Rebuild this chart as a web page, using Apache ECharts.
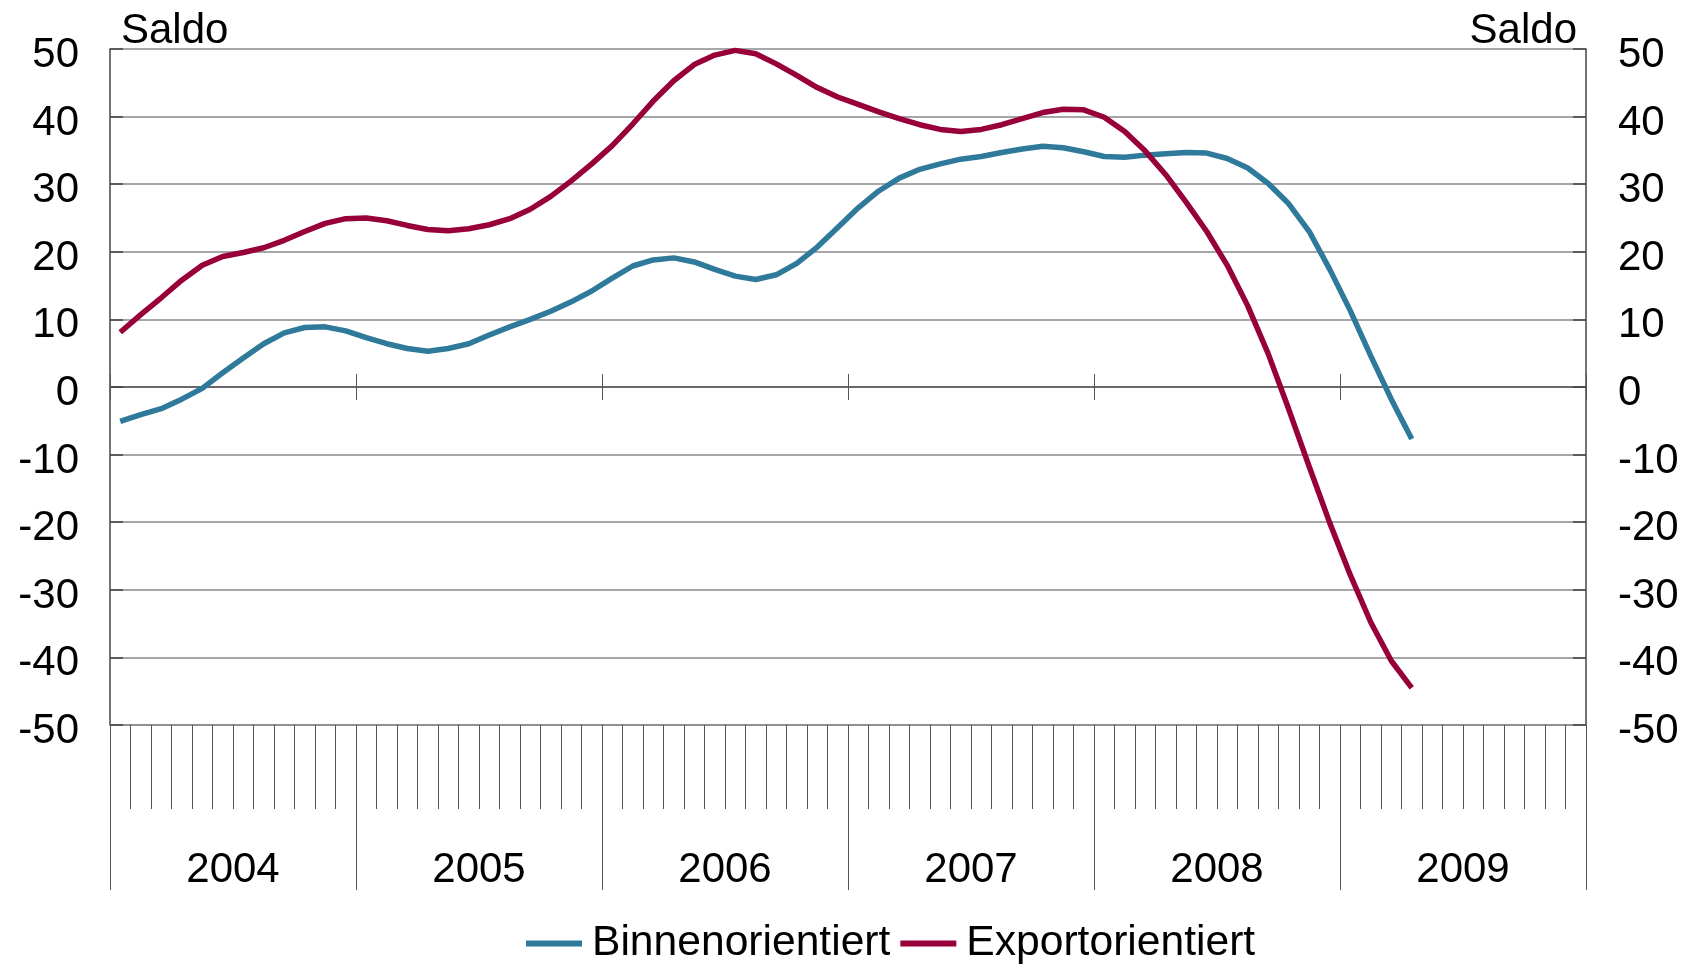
<!DOCTYPE html>
<html>
<head>
<meta charset="utf-8">
<script src="https://cdn.jsdelivr.net/npm/echarts@6/dist/echarts.min.js"></script>
<style>
  html, body { margin: 0; padding: 0; background: #fff; }
  #chart { width: 1691px; height: 965px; }
</style>
</head>
<body>
<div id="chart"></div>
<script>
// years on the x axis, one category per month
const years = ['2004', '2005', '2006', '2007', '2008', '2009'];
const months = [];
years.forEach(function (y) {
    for (let m = 1; m <= 12; m++) months.push(y + '-' + (m < 10 ? '0' + m : m));
});

// Saldo, Jan 2004 - Apr 2009
const binnen = [
    -5.1, -4.1, -3.2, -1.8, -0.2, 2.1, 4.3, 6.4, 8.0, 8.8, 8.9, 8.3,
    7.3, 6.4, 5.7, 5.3, 5.7, 6.4, 7.7, 8.9, 10.0, 11.2, 12.6, 14.2,
    16.1, 17.9, 18.8, 19.1, 18.5, 17.4, 16.4, 15.9, 16.6, 18.3, 20.7, 23.6,
    26.5, 29.0, 30.9, 32.2, 33.0, 33.7, 34.1, 34.7, 35.2, 35.6, 35.4, 34.8,
    34.1, 34.0, 34.3, 34.5, 34.7, 34.6, 33.8, 32.4, 30.1, 27.1, 23.0, 17.4,
    11.3, 4.6, -1.8, -7.7
];
const export_ = [
    8.1, 10.7, 13.2, 15.8, 18.0, 19.3, 19.9, 20.6, 21.7, 23.0, 24.2, 24.9,
    25.0, 24.6, 23.9, 23.3, 23.1, 23.4, 24.0, 24.9, 26.3, 28.2, 30.5, 33.0,
    35.7, 38.9, 42.3, 45.3, 47.7, 49.1, 49.8, 49.3, 47.8, 46.1, 44.3, 42.9,
    41.8, 40.7, 39.7, 38.8, 38.1, 37.8, 38.1, 38.8, 39.7, 40.6, 41.1, 41.0,
    39.9, 37.8, 34.9, 31.4, 27.3, 23.0, 18.0, 12.0, 4.9, -3.3, -11.8, -20.1,
    -27.8, -34.8, -40.5, -44.5
];

const FONT = '"Liberation Sans", Arial, sans-serif';
const axisDark = '#444';

const myChart = echarts.init(document.getElementById('chart'));

function yAxisConf(pos) {
    const left = pos === 'left';
    return {
        type: 'value',
        position: pos,
        min: -50,
        max: 50,
        interval: 10,
        name: 'Saldo',
        nameLocation: 'end',
        nameGap: -3,
        nameTextStyle: {
            fontFamily: FONT, fontSize: 42, color: '#000',
            align: left ? 'left' : 'right',
            verticalAlign: 'bottom',
            lineHeight: 42,
            padding: left ? [0, 0, 0, 11] : [0, 9, 0, 0]
        },
        axisLine: { show: true, lineStyle: { color: axisDark, width: 1.5 } },
        axisTick: { show: true, inside: true, length: 13, lineStyle: { color: axisDark, width: 1.5 } },
        axisLabel: {
            margin: left ? 31 : 32,
            // push the numbers a little below their grid line, as in the original
            formatter: '{v|{value}}',
            rich: { v: { fontFamily: FONT, fontSize: 42, color: '#000', padding: [13, 0, 0, 0] } }
        },
        splitLine: { show: left, lineStyle: { color: '#8a8a8a', width: 1.5 } }
    };
}

const option = {
    animation: false,
    backgroundColor: '#fff',
    grid: { left: 110, right: 105, top: 49, bottom: 240, containLabel: false },
    legend: {
        left: 521,
        top: 917,
        itemGap: 10,
        itemWidth: 56,
        itemHeight: 6,
        icon: 'rect',
        textStyle: { fontFamily: FONT, fontSize: 42.6, color: '#000', padding: [0, 0, 0, 5] },
        data: ['Binnenorientiert', 'Exportorientiert']
    },
    xAxis: [
        {   // month ticks
            type: 'category', data: months, position: 'bottom', boundaryGap: true,
            axisLine: { onZero: false, lineStyle: { color: '#8a8a8a', width: 1.5 } },
            axisTick: { show: true, interval: 0, length: 84, lineStyle: { color: '#555', width: 1 } },
            axisLabel: { show: false },
            splitLine: { show: false }
        },
        {   // year separators and labels
            type: 'category', data: years, position: 'bottom', boundaryGap: true,
            axisLine: { show: false, onZero: false },
            axisTick: { show: true, interval: 0, length: 165, lineStyle: { color: '#555', width: 1 } },
            axisLabel: { interval: 0, margin: 124, fontFamily: FONT, fontSize: 42, color: '#000' },
            splitLine: { show: false }
        },
        {   // year ticks above the zero line
            type: 'category', data: years, position: 'bottom', boundaryGap: true,
            axisLine: { show: true, onZero: true, lineStyle: { color: '#555', width: 1.5 } },
            axisTick: { show: true, inside: true, interval: 0, length: 13, lineStyle: { color: '#555', width: 1 } },
            axisLabel: { show: false },
            splitLine: { show: false }
        },
        {   // year ticks below the zero line
            type: 'category', data: years, position: 'bottom', boundaryGap: true,
            axisLine: { show: false, onZero: true },
            axisTick: { show: true, inside: false, interval: 0, length: 13, lineStyle: { color: '#555', width: 1 } },
            axisLabel: { show: false },
            splitLine: { show: false }
        }
    ],
    yAxis: [yAxisConf('left'), yAxisConf('right')],
    series: [
        {
            name: 'Binnenorientiert', type: 'line', xAxisIndex: 0, yAxisIndex: 0,
            data: binnen, showSymbol: false, smooth: false,
            lineStyle: { color: '#2f7a9b', width: 5.5 },
            itemStyle: { color: '#2f7a9b' }
        },
        {
            name: 'Exportorientiert', type: 'line', xAxisIndex: 0, yAxisIndex: 0,
            data: export_, showSymbol: false, smooth: false,
            lineStyle: { color: '#98003a', width: 5.5 },
            itemStyle: { color: '#98003a' }
        }
    ]
};

myChart.setOption(option);
</script>
</body>
</html>
